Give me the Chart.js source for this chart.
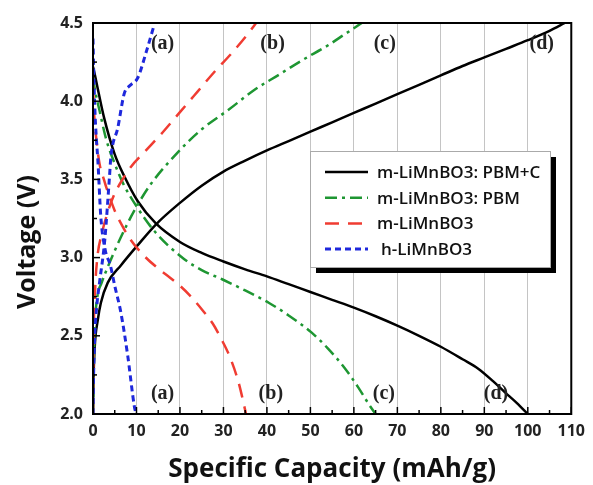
<!DOCTYPE html>
<html>
<head>
<meta charset="utf-8">
<script src="https://cdn.jsdelivr.net/npm/chart.js@4.4.1/dist/chart.umd.min.js"></script>
<style>
body { margin: 0; background: #fff; }
</style>
</head>
<body>
<canvas id="chart" width="593" height="485"></canvas>
<script>
// m-LiMnBO3: PBM+C
const pbmcDisX = [0, 0.5, 1.1, 2.5, 5, 7.2, 10.3, 14.4, 20, 25, 30, 35, 40, 45, 50, 55, 60, 65, 70, 75, 80, 85, 88.6, 92, 94.7, 97.5, 100];
const pbmcDisV = [4.22, 4.16, 4.08, 3.9, 3.66, 3.52, 3.36, 3.22, 3.1, 3.03, 2.975, 2.925, 2.88, 2.83, 2.78, 2.73, 2.68, 2.625, 2.565, 2.5, 2.43, 2.35, 2.29, 2.21, 2.14, 2.07, 2.0];
const pbmcChgX = [0, 0.1, 0.4, 1.1, 1.8, 3.4, 6.4, 10.3, 14.4, 20, 25, 30, 35, 40, 45, 50, 55, 60, 65, 70, 75, 80, 85, 90, 95, 100, 105, 108.5];
const pbmcChgV = [2.0, 2.2, 2.43, 2.6, 2.71, 2.84, 2.95, 3.08, 3.21, 3.35, 3.46, 3.55, 3.62, 3.685, 3.745, 3.805, 3.865, 3.925, 3.985, 4.045, 4.105, 4.165, 4.225, 4.28, 4.335, 4.39, 4.45, 4.5];

// m-LiMnBO3: PBM
const pbmDisX = [0, 0.4, 1.5, 3, 5, 7, 9.5, 14.1, 21, 25, 29.8, 35, 40.5, 45, 50.3, 54, 58, 61, 63.5, 65];
const pbmDisV = [4.15, 4.08, 3.94, 3.76, 3.6, 3.47, 3.35, 3.17, 2.99, 2.92, 2.86, 2.79, 2.71, 2.63, 2.52, 2.42, 2.29, 2.17, 2.06, 2.0];
const pbmChgX = [0, 0.2, 0.5, 1, 2, 3.4, 6.4, 9.5, 13.3, 19.4, 25, 31.4, 37, 42.8, 48, 54.2, 58, 61.8];
const pbmChgV = [2.0, 2.35, 2.6, 2.75, 2.84, 2.94, 3.13, 3.3, 3.47, 3.67, 3.82, 3.95, 4.07, 4.17, 4.26, 4.36, 4.43, 4.5];

// m-LiMnBO3
const mDisX = [0, 0.3, 0.8, 1.5, 2.5, 3.4, 5, 6.4, 8.5, 11.8, 15, 17.8, 20, 22.2, 25, 27.5, 29.5, 31.4, 33.5, 35.2];
const mDisV = [4.1, 3.9, 3.75, 3.6, 3.5, 3.42, 3.3, 3.22, 3.12, 3.01, 2.93, 2.87, 2.82, 2.76, 2.67, 2.58, 2.48, 2.37, 2.2, 2.0];
const mChgX = [0, 0.1, 0.5, 1, 2, 3.5, 5, 6.8, 8.7, 12, 16, 20, 24, 28, 32, 35.9, 37.5];
const mChgV = [2.0, 2.4, 2.8, 3.0, 3.15, 3.3, 3.41, 3.5, 3.58, 3.68, 3.8, 3.93, 4.06, 4.19, 4.31, 4.44, 4.5];

// h-LiMnBO3
const hDisX = [0, 0.2, 0.5, 0.8, 1.1, 1.8, 2.8, 4, 5, 6.4, 8, 9.5, 9.9];
const hDisV = [4.4, 4.15, 3.9, 3.75, 3.63, 3.26, 3.05, 2.95, 2.82, 2.65, 2.37, 2.05, 2.0];
const hChgX = [0, 0.1, 0.4, 0.9, 1.5, 2.7, 3.8, 4.1, 5.7, 7.2, 8.5, 10.3, 12.3, 14.1];
const hChgV = [2.0, 2.2, 2.5, 2.7, 2.84, 3.11, 3.52, 3.64, 3.83, 4.05, 4.1, 4.15, 4.32, 4.49];

const seriesNames = ["m-LiMnBO3: PBM+C", "m-LiMnBO3: PBM", "m-LiMnBO3", "h-LiMnBO3"];
const seriesColors = ["#000000", "#1e9632", "#f03c32", "#1e28dc"];
const seriesDash = [[], [12, 5, 3, 5], [14, 9], [6, 4]];
const seriesWidth = [2.5, 2.5, 2.5, 3];

const xTicks = [0, 110, 10];
const yTicks = [2.0, 4.5, 0.5];

const panelTags = ["(a)", "(b)", "(c)", "(d)"];
const tagTopX = [16, 41.3, 67.1, 103.2];
const tagTopV = 4.37;
const tagBotX = [16, 40.9, 66.9, 92.7];
const tagBotV = 2.13;

const curves = [
	[0, pbmcDisX, pbmcDisV], [0, pbmcChgX, pbmcChgV],
	[1, pbmDisX, pbmDisV], [1, pbmChgX, pbmChgV],
	[2, mDisX, mDisV], [2, mChgX, mChgV],
	[3, hDisX, hDisV], [3, hChgX, hChgV],
];

// draw blue first so black ends up on top
const datasets = curves.slice().reverse().map(([s, xs, vs]) => ({
	label: seriesNames[s],
	data: xs.map((x, i) => ({ x: x, y: vs[i] })),
	borderColor: seriesColors[s],
	borderDash: seriesDash[s],
	borderWidth: seriesWidth[s],
	pointRadius: 0,
	fill: false,
	cubicInterpolationMode: "monotone",
}));

const decor = {
	id: "decor",
	afterDatasetsDraw(chart) {
		const { ctx, chartArea: a, scales } = chart;
		const x = scales.x, y = scales.y;
		ctx.save();

		// frame
		ctx.strokeStyle = "#000";
		ctx.lineWidth = 2;
		ctx.setLineDash([]);
		ctx.strokeRect(a.left, a.top, a.right - a.left, a.bottom - a.top);

		// inward ticks
		ctx.lineWidth = 1.5;
		for (let v = xTicks[0]; v <= xTicks[1]; v += xTicks[2] / 2) {
			const px = x.getPixelForValue(v);
			const len = v % xTicks[2] === 0 ? 7 : 4;
			ctx.beginPath();
			ctx.moveTo(px, a.bottom);
			ctx.lineTo(px, a.bottom - len);
			ctx.stroke();
		}
		for (let v = yTicks[0]; v <= yTicks[1] + 1e-9; v += yTicks[2] / 2) {
			const py = y.getPixelForValue(v);
			const major = Math.abs(v / yTicks[2] - Math.round(v / yTicks[2])) < 1e-6;
			ctx.beginPath();
			ctx.moveTo(a.left, py);
			ctx.lineTo(a.left + (major ? 7 : 4), py);
			ctx.stroke();
		}

		// panel tags
		ctx.fillStyle = "#222";
		ctx.font = "bold 20px 'Liberation Serif'";
		ctx.textAlign = "center";
		ctx.textBaseline = "middle";
		panelTags.forEach((t, i) => {
			ctx.fillText(t, x.getPixelForValue(tagTopX[i]), y.getPixelForValue(tagTopV));
			ctx.fillText(t, x.getPixelForValue(tagBotX[i]), y.getPixelForValue(tagBotV));
		});

		// y axis title
		ctx.save();
		ctx.translate(28, 242);
		ctx.rotate(-Math.PI / 2);
		ctx.font = "bold 25px 'Open Sans'";
		ctx.fillStyle = "#111";
		ctx.fillText("Voltage (V)", 0, 0);
		ctx.restore();

		// legend box
		const bx = 310, by = 151, bw = 240, bh = 116;
		ctx.fillStyle = "#000";
		ctx.fillRect(bx + 6, by + 6, bw, bh);
		ctx.fillStyle = "#fff";
		ctx.fillRect(bx, by, bw, bh);
		ctx.strokeStyle = "#aaa";
		ctx.lineWidth = 1;
		ctx.strokeRect(bx + 0.5, by + 0.5, bw, bh);

		ctx.font = "600 17px 'Open Sans'";
		ctx.textAlign = "left";
		seriesNames.forEach((name, i) => {
			const ry = by + 21 + i * 25.7;
			ctx.strokeStyle = seriesColors[i];
			ctx.lineWidth = seriesWidth[i];
			ctx.setLineDash(seriesDash[i]);
			ctx.beginPath();
			ctx.moveTo(bx + 15, ry);
			ctx.lineTo(bx + 58, ry);
			ctx.stroke();
			ctx.setLineDash([]);
			ctx.fillStyle = "#111";
			ctx.fillText(name, bx + (i === 3 ? 71 : 67), ry + 1);
		});
		ctx.restore();
	},
};

const chart = new Chart(document.getElementById("chart"), {
	type: "line",
	data: { datasets: datasets },
	options: {
		responsive: false,
		animation: false,
		layout: { padding: { top: 23, right: 18, left: 0, bottom: 0 } },
		plugins: { legend: { display: false }, tooltip: { enabled: false } },
		scales: {
			x: {
				type: "linear",
				min: xTicks[0],
				max: xTicks[1],
				ticks: {
					stepSize: xTicks[2],
					padding: 8,
					color: "#222",
					font: { family: "'Open Sans'", size: 16, weight: "bold" },
				},
				grid: { color: "#c4c4c4", lineWidth: 1, drawTicks: false },
				border: { display: false },
				title: {
					display: true,
					text: "Specific Capacity (mAh/g)",
					color: "#111",
					font: { family: "'Open Sans'", size: 26, weight: "bold" },
					padding: { top: 0, bottom: 0 },
				},
				afterFit: (s) => { s.height = 71; },
			},
			y: {
				type: "linear",
				min: yTicks[0],
				max: yTicks[1],
				ticks: {
					stepSize: yTicks[2],
					padding: 10,
					color: "#222",
					font: { family: "'Open Sans'", size: 16, weight: "bold" },
					callback: (v) => v.toFixed(1),
				},
				grid: { display: false, drawTicks: false },
				border: { display: false },
				afterFit: (s) => { s.width = 93; },
			},
		},
	},
	plugins: [decor],
});
</script>
</body>
</html>
